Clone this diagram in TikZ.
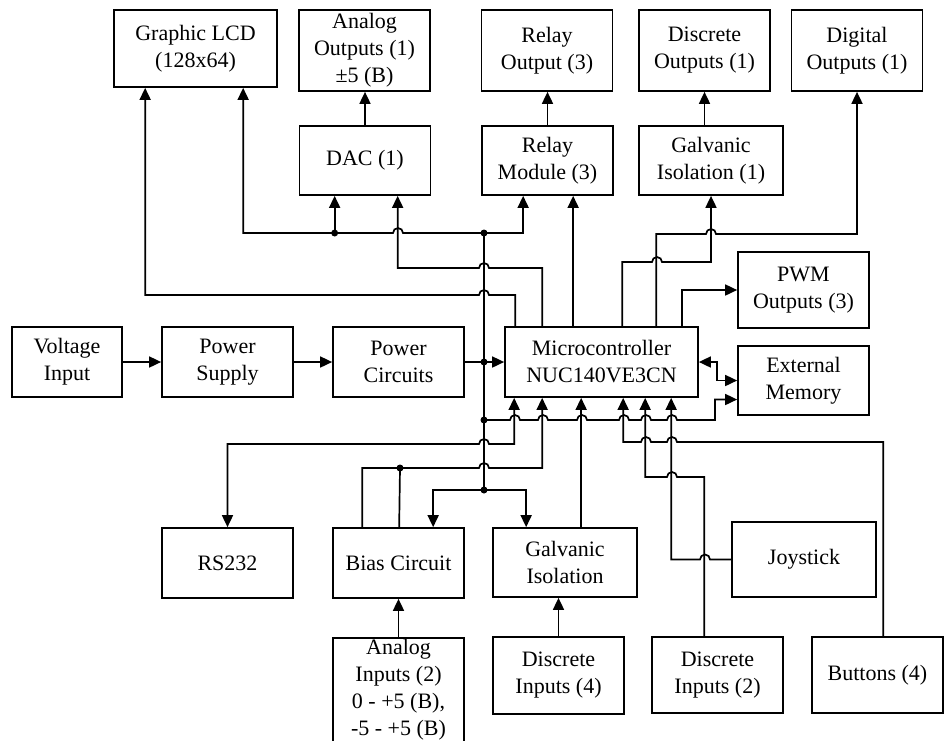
\documentclass[tikz,border=0pt]{standalone}
\usepackage{fontspec}
\setmainfont{Liberation Serif}
\usetikzlibrary{arrows.meta, positioning, calc}
\tikzset{
	blk/.style ={rectangle, draw=black, line width=1.7pt, minimum width=131pt, minimum height=70pt, inner sep=0pt, align=center, font=\fontsize{22}{27}\selectfont},
	wire/.style={line width=1.7pt},
	sig/.style ={-{Triangle[length=12pt, width=11pt]}, line width=1.7pt},
	bsig/.style={{Triangle[length=12pt, width=11pt]}-{Triangle[length=12pt, width=11pt]}, line width=1.7pt},
	jdot/.style={circle, fill=black, inner sep=0pt, minimum size=7pt},
}
% hop over a crossing wire, going right / going left
\newcommand{\hopR}[2]{(#1-5,#2) arc[start angle=180, end angle=0, radius=5pt]}
\newcommand{\hopL}[2]{(#1+5,#2) arc[start angle=0, end angle=180, radius=5pt]}

\begin{document}
\begin{tikzpicture}[x=1pt, y=-1pt]
	\useasboundingbox (0,0) rectangle (944,740);
	\clip (0,0) rectangle (944,740);
	% top row
	\node[blk, minimum width=163pt, minimum height=77pt] (lcd) at (195.5,48.5) {Graphic LCD\\(128x64)};
	\node[blk, minimum height=81pt] (aout)   at (364.5,50.5) {Analog\\Outputs (1)\\±5 (B)};
	\node[blk, minimum height=81pt] (rout)   at (547,50.5)   {Relay\\Output (3)};
	\node[blk, minimum height=81pt] (dout)   at (704.5,50.5) {Discrete\\Outputs (1)};
	\node[blk, minimum height=81pt] (digout) at (857,50.5)   {Digital\\Outputs (1)};
	% second row
	\node[blk, minimum height=69pt] (dac)   at (365,160.5)   {DAC (1)};
	\node[blk, minimum height=69pt] (relay) at (547.5,160.5) {Relay\\Module (3)};
	\node[blk, minimum width=144pt, minimum height=69pt] (giso1) at (711,160.5) {Galvanic\\Isolation (1)};
	\node[blk, minimum height=76pt] (pwm)   at (803.5,290)   {PWM\\Outputs (3)};
	% middle row
	\node[blk, minimum width=110pt] (vin) at (67,362)    {Voltage\\Input};
	\node[blk] (psu)   at (227.5,362) {Power\\Supply};
	\node[blk] (pcirc) at (398.5,362) {Power\\Circuits};
	\node[blk, minimum width=193pt] (mcu) at (601.5,362) {Microcontroller\\NUC140VE3CN};
	\node[blk, minimum height=69pt] (xmem) at (803.5,380.5) {External\\Memory};
	% lower rows
	\node[blk] (rs)   at (227.5,563) {RS232};
	\node[blk] (bias) at (398.5,563) {Bias Circuit};
	\node[blk, minimum width=144pt, minimum height=69pt] (giso) at (565,562.5) {Galvanic\\Isolation};
	\node[blk, minimum width=144pt, minimum height=75pt] (joy)  at (804,559.5) {Joystick};
	\node[blk, minimum height=104pt] (ain)  at (398.5,690) {Analog\\Inputs (2)\\0 - +5 (B),\\-5 - +5 (B)};
	\node[blk, minimum height=77pt]  (din4) at (558.5,675.5) {Discrete\\Inputs (4)};
	\node[blk, minimum height=76pt]  (din2) at (717.5,675)   {Discrete\\Inputs (2)};
	\node[blk, minimum height=76pt]  (btn)  at (877.5,675)   {Buttons (4)};

	% pins
	\foreach \n/\dx in {1/11, 2/38, 3/69, 4/118, 5/152, 6/178}
		\coordinate (mt\n) at ([xshift=\dx pt]mcu.north west);
	\foreach \n/\dx in {1/10, 2/38, 3/77, 4/119, 5/141, 6/167}
		\coordinate (mb\n) at ([xshift=\dx pt]mcu.south west);
	\coordinate (lcdA)  at ([xshift=32pt]lcd.south west);
	\coordinate (lcdB)  at ([xshift=130pt]lcd.south west);
	\coordinate (dacA)  at ([xshift=36pt]dac.south west);
	\coordinate (dacB)  at ([xshift=99pt]dac.south west);
	\coordinate (relA)  at ([xshift=42pt]relay.south west);
	\coordinate (relB)  at ([xshift=92pt]relay.south west);
	\coordinate (biasA) at ([xshift=30pt]bias.north west);
	\coordinate (biasB) at ([xshift=67pt]bias.north west);
	\coordinate (biasC) at ([xshift=101pt]bias.north west);
	\coordinate (gisoA) at ([xshift=34pt]giso.north west);
	\coordinate (gisoB) at ([xshift=89pt]giso.north west);
	\coordinate (din2p) at ([xshift=53pt]din2.north west);
	\coordinate (btnp)  at ([xshift=72pt]btn.north west);
	\coordinate (xmemA) at (xmem.west);
	\coordinate (xmemB) at ([yshift=-19pt]xmem.west);
	% power bus
	\coordinate (busT) at (484,233);
	\coordinate (busP) at (pcirc.east -| busT);
	\coordinate (busM) at (484,420);
	\coordinate (busB) at (484,490);

	% power chain
	\draw[sig] (vin) -- (psu);
	\draw[sig] (psu) -- (pcirc);
	\draw[sig] (pcirc) -- (mcu);
	\draw[wire] (busT) -- (busB);
	% power to upper blocks
	\draw[sig] (busT) -| (relA);
	\draw[sig] (busT) -- \hopL{398}{233} -| (lcdB);
	\draw[sig] (dacA |- busT) -- (dacA);
	% mcu outputs
	\draw[sig] (mt1) |- \hopL{484}{295} -| (lcdA);
	\draw[sig] (mt2) |- \hopL{484}{268} -| (dacB);
	\draw[sig] (mt3) -- (relB);
	\draw[sig] (mt4) |- \hopR{657}{262} -| (giso1.south);
	\draw[sig] (mt5) |- \hopR{711}{234} -| (digout.south);
	\draw[sig] (mt6) |- (pwm.west);
	\draw[sig] (dac.north) -- (dac.north |- aout.south);
	\draw[sig] (relay.north) -- (relay.north |- rout.south);
	\draw[sig] (giso1.north -| dout.south) -- (dout.south);
	\draw[bsig] (mcu.east) -- (717,362) |- (xmemA);
	% power bus under the mcu
	\draw[sig] (busM) -- \hopR{515}{420} -- \hopR{543}{420} -- \hopR{582}{420} -- \hopR{624}{420} -- \hopR{646}{420} -- \hopR{672}{420} -- (715,420) |- (xmemB);
	% mcu inputs
	\draw[bsig] (mb1) |- \hopL{484}{444} -| (rs.north);
	\draw[sig] (biasA) |- \hopR{484}{468} -| (mb2);
	\draw[wire] (biasB) -- (400,468);
	\draw[sig] (busB) -| (biasC);
	\draw[sig] (busB) -| (gisoA);
	\draw[sig] (gisoB) -- (mb3);
	\draw[sig] (btnp) |- \hopL{672}{442} -- \hopL{646}{442} -| (mb4);
	\draw[sig] (din2p) |- \hopL{672}{477} -| (mb5);
	\draw[sig] (joy.west) -- \hopL{705}{559.5} -| (mb6);
	\draw[sig] (ain) -- (bias);
	\draw[sig] (din4.north) -- (din4.north |- giso.south);
	% junctions
	\foreach \p in {busT, busP, busM, busB}
		\node[jdot] at (\p) {};
	\node[jdot] at (dacA |- busT) {};
	\node[jdot] at (400,468) {};
\end{tikzpicture}
\end{document}
